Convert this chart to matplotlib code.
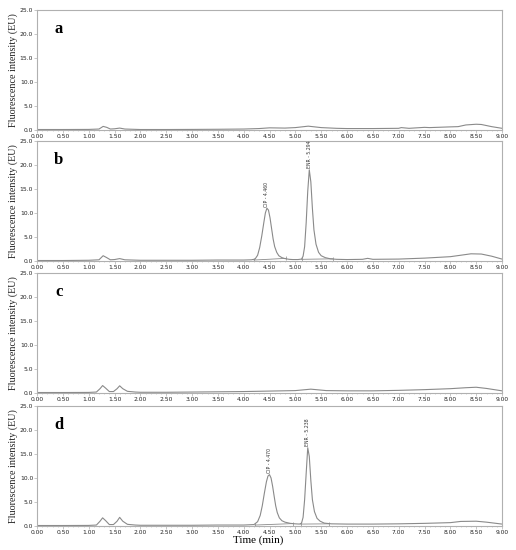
import matplotlib.pyplot as plt
import matplotlib.ticker as mticker

# panel a - blank
t_a = [0.0, 0.5, 1.0, 1.2, 1.28, 1.35, 1.42, 1.5, 1.6, 1.7, 2.0, 2.5, 3.0, 3.5, 4.0, 4.3, 4.5,
       4.8, 5.0, 5.25, 5.5, 5.8, 6.0, 6.5, 7.0, 7.05, 7.2, 7.5, 7.6, 8.0, 8.15, 8.3, 8.5, 8.6, 8.8, 9.0]
y_a = [0.1, 0.1, 0.12, 0.2, 0.75, 0.55, 0.2, 0.25, 0.4, 0.2, 0.1, 0.1, 0.12, 0.15, 0.2, 0.3, 0.45,
       0.4, 0.5, 0.8, 0.5, 0.35, 0.3, 0.3, 0.35, 0.5, 0.35, 0.55, 0.5, 0.65, 0.7, 1.05, 1.2, 1.15, 0.7, 0.35]

# panel b - spiked sample
t_b = [0.0, 0.5, 1.0, 1.2, 1.28, 1.35, 1.42, 1.5, 1.6, 1.7, 2.0, 2.5, 3.0, 3.5, 4.0, 4.15,
       4.22, 4.27, 4.31, 4.35, 4.39, 4.42, 4.45, 4.48, 4.51, 4.54, 4.57, 4.60, 4.64, 4.68, 4.74,
       4.80, 4.88, 4.95, 5.05, 5.12, 5.15, 5.18, 5.21, 5.24, 5.27, 5.30, 5.33, 5.36, 5.40, 5.45,
       5.50, 5.58, 5.68, 5.8, 6.0, 6.3, 6.4, 6.5, 7.0, 7.5, 8.0, 8.2, 8.4, 8.6, 8.8, 9.0]
y_b = [0.1, 0.1, 0.15, 0.25, 1.1, 0.7, 0.25, 0.3, 0.5, 0.25, 0.15, 0.15, 0.15, 0.2, 0.2, 0.25,
       0.4, 1.2, 2.8, 5.2, 8.0, 10.0, 11.0, 10.6, 9.0, 6.8, 4.6, 3.0, 1.8, 1.1, 0.7,
       0.5, 0.35, 0.3, 0.3, 0.4, 1.0, 3.0, 8.0, 14.5, 19.0, 16.5, 11.0, 6.5, 3.5, 1.8,
       1.1, 0.7, 0.45, 0.35, 0.3, 0.35, 0.55, 0.35, 0.4, 0.6, 0.9, 1.2, 1.5, 1.45, 1.0, 0.4]

# panel c - blank sample
t_c = [0.0, 0.5, 1.0, 1.15, 1.22, 1.27, 1.33, 1.4, 1.48, 1.55, 1.6, 1.66, 1.75, 1.9, 2.0, 2.5,
       3.0, 3.5, 4.0, 4.5, 5.0, 5.3, 5.6, 6.0, 6.5, 7.0, 7.5, 8.0, 8.3, 8.5, 8.7, 9.0]
y_c = [0.1, 0.1, 0.12, 0.2, 0.9, 1.55, 1.0, 0.3, 0.3, 0.9, 1.5, 0.9, 0.35, 0.2, 0.15, 0.15,
       0.2, 0.25, 0.3, 0.4, 0.5, 0.8, 0.5, 0.45, 0.45, 0.55, 0.7, 0.9, 1.1, 1.2, 0.95, 0.45]

# panel d - real sample
t_d = [0.0, 0.5, 1.0, 1.15, 1.22, 1.27, 1.33, 1.4, 1.48, 1.55, 1.6, 1.66, 1.75, 1.9, 2.0, 2.5,
       3.0, 3.5, 4.0, 4.2, 4.27, 4.32, 4.36, 4.40, 4.44, 4.47, 4.50, 4.53, 4.56, 4.59, 4.62, 4.65,
       4.69, 4.74, 4.80, 4.9, 5.0, 5.08, 5.12, 5.15, 5.18, 5.21, 5.24, 5.27, 5.30, 5.33, 5.37,
       5.42, 5.48, 5.56, 5.7, 6.0, 6.5, 7.0, 7.5, 8.0, 8.2, 8.5, 8.7, 9.0]
y_d = [0.1, 0.1, 0.12, 0.2, 1.0, 1.7, 1.1, 0.3, 0.3, 1.0, 1.8, 1.0, 0.35, 0.2, 0.15, 0.15,
       0.15, 0.2, 0.2, 0.3, 0.9, 2.2, 4.2, 6.8, 9.2, 10.4, 10.7, 10.0, 8.3, 6.2, 4.2, 2.8,
       1.7, 1.1, 0.8, 0.55, 0.45, 0.4, 0.6, 1.8, 5.5, 11.0, 16.3, 14.5, 9.5, 5.5, 3.0,
       1.6, 1.0, 0.6, 0.45, 0.4, 0.4, 0.45, 0.55, 0.7, 0.95, 1.0, 0.8, 0.4]

# peak labels: panel, time, height, text
peak_labels = [('b', 4.45, 11.0, 'CIP - 4.460'), ('b', 5.27, 19.0, 'ENR - 5.294'),
               ('d', 4.50, 10.7, 'CIP - 4.470'), ('d', 5.24, 16.3, 'ENR - 5.238')]

# integration baselines: panel, t_start, t_end, y_start, y_end
base_lines = [('b', 4.20, 4.82, 0.2, 0.55), ('b', 5.12, 5.72, 0.35, 0.45),
              ('d', 4.22, 4.95, 0.2, 0.5), ('d', 5.10, 5.65, 0.4, 0.45)]

traces = {'a': (t_a, y_a), 'b': (t_b, y_b), 'c': (t_c, y_c), 'd': (t_d, y_d)}

fig = plt.figure(figsize=(5.16, 5.5), dpi=100)
left, width = 37 / 516, 465 / 516
tops = [10, 141, 273, 406]
h = 120

line_col = '#8a8a8a'
frame_col = '#b0b0b0'

for name, top in zip('abcd', tops):
    ax = fig.add_axes([left, 1 - (top + h) / 550, width, h / 550])
    t, y = traces[name]
    ax.plot(t, y, color=line_col, lw=0.8)
    for p, t0, t1, y0, y1 in base_lines:
        if p == name:
            ax.plot([t0, t1], [y0, y1], color=line_col, lw=0.6)
            ax.plot([t0, t1], [y0, y1], ls='none', marker='|', ms=2.5, mew=0.5, color=line_col)
    for p, tp, yp, txt in peak_labels:
        if p == name:
            ax.text(tp, yp + 0.3, txt, rotation=90, ha='center', va='bottom',
                    fontsize=3.3, color='#333333')
    ax.set_xlim(0, 9)
    ax.set_ylim(0, 25)
    ax.xaxis.set_major_locator(mticker.MultipleLocator(0.5))
    ax.xaxis.set_minor_locator(mticker.MultipleLocator(0.1))
    ax.yaxis.set_major_locator(mticker.MultipleLocator(5))
    ax.xaxis.set_major_formatter(mticker.FormatStrFormatter('%.2f'))
    ax.yaxis.set_major_formatter(mticker.FormatStrFormatter('%.1f'))
    ax.tick_params(axis='both', which='major', labelsize=4.3, length=2, width=0.5,
                   color=frame_col, pad=0.8, labelcolor='#222222')
    ax.tick_params(axis='x', which='minor', length=1, width=0.4, color=frame_col)
    for s in ax.spines.values():
        s.set_color(frame_col)
        s.set_linewidth(0.8)
    ax.text(0.42, 21, name, fontsize=12, fontweight='bold', family='Liberation Serif',
            ha='center', va='center')
    ax.set_ylabel('Fluorescence intensity (EU)', family='Liberation Serif', fontsize=7.3,
                  labelpad=1.5, color='#222222')

fig.text(0.5, 1 - 540 / 550, 'Time (min)', family='Liberation Serif', fontsize=8,
         ha='center', va='center')

fig.savefig('out.png', dpi=100)
